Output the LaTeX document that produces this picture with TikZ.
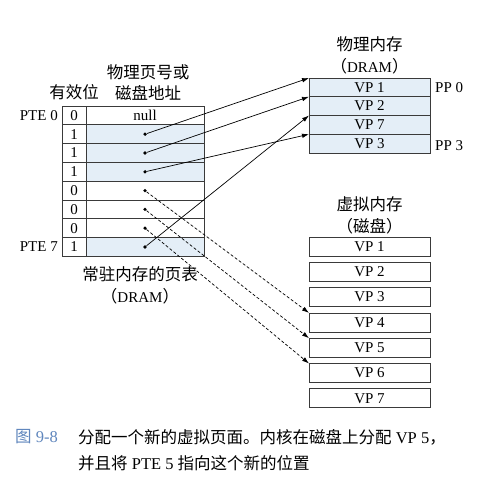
\documentclass[tikz,border=0pt]{standalone}
\usepackage{fontspec}
\usepackage{tikz}
\usetikzlibrary{arrows.meta,positioning}
\setmainfont{Liberation Serif}
\newfontfamily\cjk{Noto Sans CJK SC}
\definecolor{ptblue}{HTML}{E4EEF7}
\definecolor{capblue}{HTML}{5F86BD}
\definecolor{cellline}{HTML}{3A3A3A}
\tikzset{
  bitcell/.style={draw=cellline, line width=0.7pt, inner sep=0pt, outer sep=0pt, minimum width=24pt, minimum height=18.8pt},
  addrcell/.style={draw=cellline, line width=0.7pt, inner sep=0pt, outer sep=0pt, minimum width=118pt, minimum height=18.8pt},
  usedcell/.style={addrcell, fill=ptblue},
  ppcell/.style={draw=cellline, line width=0.7pt, fill=ptblue, inner sep=0pt, outer sep=0pt, minimum width=121pt, minimum height=18.75pt},
  diskcell/.style={draw=cellline, line width=0.7pt, inner sep=0pt, outer sep=0pt, minimum width=121pt, minimum height=19pt},
  dot/.style={circle, fill=black, inner sep=0pt, minimum size=3.6pt},
  caption/.style={font=\cjk\fontsize{16.5}{21.5}\selectfont, align=center, inner sep=0pt},
  figtext/.style={anchor=west, inner sep=0pt, font=\fontsize{16.5}{20}\selectfont},
  ptr/.style={-{Latex[length=7pt,width=4.5pt]}, line width=0.7pt, draw=black},
  diskptr/.style={ptr, dash pattern=on 3pt off 2pt}
}

\begin{document}
\begin{tikzpicture}[x=1pt, y=-1pt, node distance=0pt, font=\fontsize{15}{18}\selectfont]
  \useasboundingbox[fill=white] (0,0) rectangle (503,478);

  % page table
  \node[bitcell, anchor=north west] (b0) at (62,106) {0};
  \node[addrcell, right=of b0] (a0) {null};
  \node[bitcell, below=of b0] (b1) {1};
  \node[usedcell, right=of b1] (a1) {};
  \node[bitcell, below=of b1] (b2) {1};
  \node[usedcell, right=of b2] (a2) {};
  \node[bitcell, below=of b2] (b3) {1};
  \node[usedcell, right=of b3] (a3) {};
  \node[bitcell, below=of b3] (b4) {0};
  \node[addrcell, right=of b4] (a4) {};
  \node[bitcell, below=of b4] (b5) {0};
  \node[addrcell, right=of b5] (a5) {};
  \node[bitcell, below=of b5] (b6) {0};
  \node[addrcell, right=of b6] (a6) {};
  \node[bitcell, below=of b6] (b7) {1};
  \node[usedcell, right=of b7] (a7) {};

  \node[dot] (d1) at (a1) {};
  \node[dot] (d2) at (a2) {};
  \node[dot] (d3) at (a3) {};
  \node[dot] (d4) at (a4) {};
  \node[dot] (d5) at (a5) {};
  \node[dot] (d6) at (a6) {};
  \node[dot] (d7) at (a7) {};

  \node[left=4pt of b0, inner sep=0pt] (pte0) {PTE 0};
  \node[left=4pt of b7, inner sep=0pt] (pte7) {PTE 7};
  \node[caption, above=6pt of b0] (validlbl) {有效位};
  \node[caption, above=5pt of a0, xshift=3pt] (addrlbl) {物理页号或\\磁盘地址};
  \node[caption, below=10pt of a7, xshift=-5pt] (ptlbl) {常驻内存的页表\\（{\rmfamily\fontsize{15}{18}\selectfont DRAM}）};

  % physical memory
  \node[ppcell, anchor=north west] (p0) at (309,78) {VP 1};
  \node[ppcell, below=of p0] (p1) {VP 2};
  \node[ppcell, below=of p1] (p2) {VP 7};
  \node[ppcell, below=of p2] (p3) {VP 3};
  \node[right=5pt of p0, inner sep=0pt] (pp0) {PP 0};
  \node[right=5pt of p3, inner sep=0pt, yshift=-2pt] (pp3) {PP 3};
  \node[caption, above=4pt of p0] (dramlbl) {物理内存\\（{\rmfamily\fontsize{15}{18}\selectfont DRAM}）};

  % virtual memory on disk
  \node[diskcell, anchor=north west] (k1) at (309,237) {VP 1};
  \node[diskcell, below=6.3pt of k1] (k2) {VP 2};
  \node[diskcell, below=6.3pt of k2] (k3) {VP 3};
  \node[diskcell, below=6.3pt of k3] (k4) {VP 4};
  \node[diskcell, below=6.3pt of k4] (k5) {VP 5};
  \node[diskcell, below=6.3pt of k5] (k6) {VP 6};
  \node[diskcell, below=6.3pt of k6] (k7) {VP 7};
  \node[caption, above=3pt of k1] (disklbl) {虚拟内存\\（磁盘）};

  \draw[ptr] (d1) -- (p0.north west);
  \draw[ptr] (d2) -- (p1.north west);
  \draw[ptr] (d3) -- (p3.north west);
  \draw[ptr] (d7) -- (p2.north west);
  \draw[diskptr] (d4) -- (k4.north west);
  \draw[diskptr] (d5) -- (k5.north west);
  \draw[diskptr] (d6) -- (k6.north west);

  % figure caption
  \node[figtext, text=capblue] (fignum) at (15,437) {{\cjk 图} 9-8};
  \node[figtext] (figtxt1) at (78,437) {{\cjk 分配一个新的虚拟页面。内核在磁盘上分配} VP 5{\cjk ，}};
  \node[figtext] (figtxt2) at (78,463) {{\cjk 并且将} PTE 5 {\cjk 指向这个新的位置}};
\end{tikzpicture}
\end{document}
